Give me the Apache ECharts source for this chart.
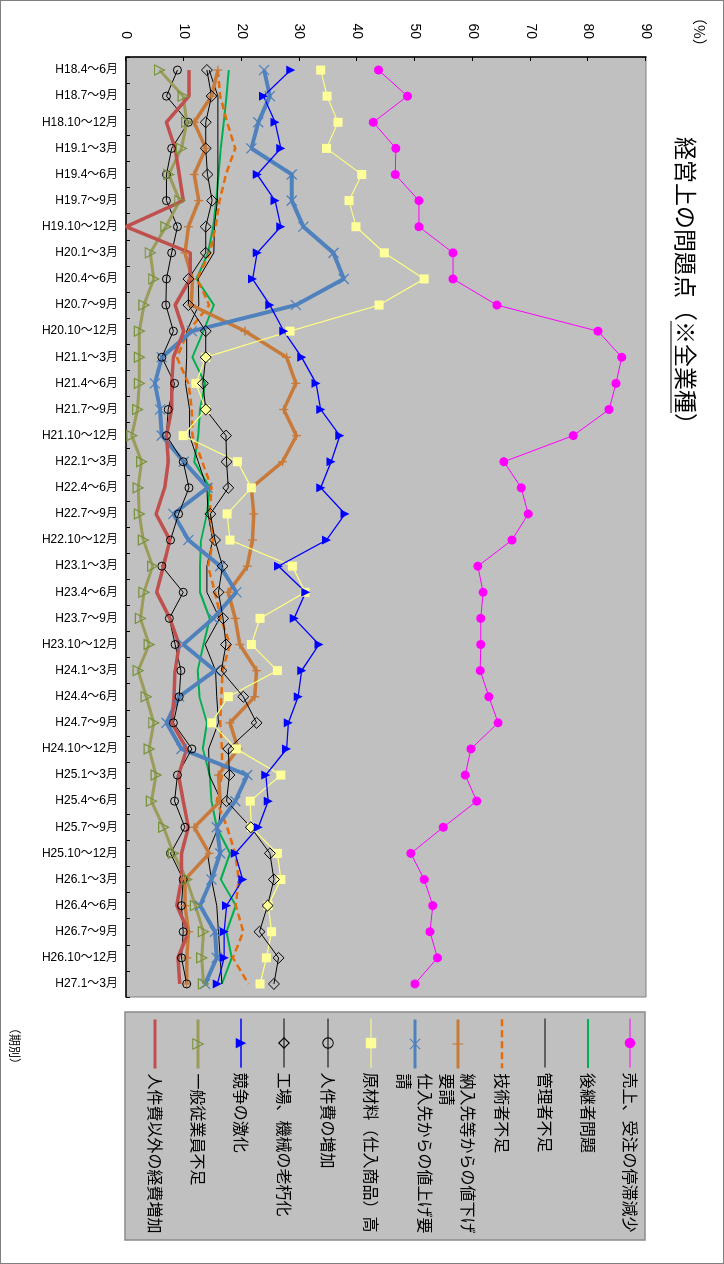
<!DOCTYPE html>
<html><head><meta charset="utf-8">
<script src="https://cdn.jsdelivr.net/npm/echarts@6/dist/echarts.min.js"></script>
<style>
html,body{margin:0;padding:0;background:#fff;overflow:hidden;width:724px;height:1264px;}
#wrap{position:absolute;left:0;top:0;width:1264px;height:724px;transform-origin:0 0;transform:translate(724px,0) rotate(90deg);}
#chart{width:1264px;height:724px;}
#frame{position:absolute;left:0;top:0;width:724px;height:1264px;box-sizing:border-box;border:1px solid #7f7f7f;pointer-events:none;}
</style></head><body>
<div id="wrap"><div id="chart"></div></div>
<div id="frame"></div>
<script>
const categories = ['H18.4～6月','H18.7～9月','H18.10～12月','H19.1～3月','H19.4～6月','H19.7～9月','H19.10～12月',
  'H20.1～3月','H20.4～6月','H20.7～9月','H20.10～12月','H21.1～3月','H21.4～6月','H21.7～9月','H21.10～12月',
  'H22.1～3月','H22.4～6月','H22.7～9月','H22.10～12月','H23.1～3月','H23.4～6月','H23.7～9月','H23.10～12月',
  'H24.1～3月','H24.4～6月','H24.7～9月','H24.10～12月','H25.1～3月','H25.4～6月','H25.7～9月','H25.10～12月',
  'H26.1～3月','H26.4～6月','H26.7～9月','H26.10～12月','H27.1～3月'];

const salesDecline      = [43.7,48.7,42.8,46.7,46.6,50.7,50.7,56.6,56.6,64.2,81.7,85.8,84.8,83.6,77.4,65.4,68.4,69.6,66.8,60.9,61.8,61.4,61.4,61.3,62.8,64.4,59.7,58.7,60.7,54.9,49.3,51.6,53.1,52.6,53.9,50.0];
const successor         = [17.8,17.4,16.9,16.4,16.0,15.6,15.1,14.2,12.2,15.2,13.4,11.5,13.7,12.8,12.5,11.8,14.5,14.0,13.0,12.8,12.8,14.5,13.4,12.4,12.7,14.0,13.3,14.5,14.8,15.7,18.0,16.4,19.0,17.4,18.3,16.6];
const managerShortage   = [14.4,15.9,15.9,15.9,15.9,15.8,15.3,15.2,12.5,12.6,10.5,10.5,10.3,11.0,11.0,12.5,14.0,14.2,15.0,14.0,14.0,16.2,13.7,15.5,15.7,16.0,14.3,14.4,16.5,16.0,14.1,14.8,15.7,16.0,16.3,16.6];
const engineerShortage  = [15.9,16.3,17.5,18.9,17.3,16.2,15.5,14.5,12.3,14.4,10.8,8.8,10.8,11.4,11.5,13.2,14.8,14.5,15.1,14.2,15.4,16.4,18.0,16.7,16.5,16.3,16.6,16.6,15.7,17.5,18.9,19.5,19.0,20.3,18.5,21.2];
const priceCutRequest   = [15.9,14.8,11.8,13.8,11.8,12.6,10.8,10.2,11.5,11.3,20.6,27.8,29.4,27.3,29.5,27.1,21.7,22.1,21.9,21.0,17.7,18.9,19.7,22.6,22.3,18.0,19.4,16.0,16.3,11.8,14.4,10.2,10.2,10.8,10.5,10.5];
const supplierPriceUp   = [23.9,24.9,22.9,21.7,28.7,28.7,30.7,35.9,37.7,29.4,11.4,6.2,5.0,5.9,6.2,10.0,14.1,8.2,10.8,16.3,19.1,15.1,9.9,15.4,9.2,7.0,9.6,21.0,18.9,15.7,16.3,14.8,12.8,15.4,15.7,13.7];
const materialCost      = [33.7,34.8,36.7,34.7,40.8,38.6,39.8,44.7,51.6,43.8,28.4,13.8,12.1,13.8,9.9,19.3,21.7,17.5,18.0,28.8,31.0,23.2,21.7,26.2,17.7,14.8,19.1,26.8,21.5,21.7,26.2,26.8,24.6,25.2,24.3,23.2];
const laborCostUp       = [8.9,7.0,10.8,7.9,7.0,7.0,8.9,7.9,7.0,6.9,8.2,6.2,8.4,7.3,7.0,9.9,10.9,9.1,7.7,6.2,9.9,7.5,8.5,9.5,9.2,8.2,11.4,8.9,8.4,10.2,7.7,9.9,9.6,9.9,9.6,10.5];
const facilityAging     = [14.0,14.8,13.8,13.8,14.1,14.9,13.8,13.8,10.8,10.8,13.8,13.8,13.3,13.8,17.3,17.4,17.7,14.6,15.4,16.7,16.0,16.8,17.3,16.5,20.3,22.6,17.7,17.9,17.4,21.6,24.9,25.6,24.5,23.1,26.4,25.6];
const competition       = [28.5,23.8,25.8,26.8,22.7,25.8,26.8,22.7,21.9,24.9,27.3,30.4,32.9,33.7,37.0,35.5,33.7,37.9,34.7,26.4,31.1,29.1,33.4,30.4,29.8,28.1,27.8,24.2,24.6,22.9,18.9,20.2,17.4,17.0,17.0,15.8];
const staffShortage     = [5.8,9.9,10.5,9.6,7.4,9.3,6.9,4.2,4.8,3.1,2.3,2.3,2.3,2.0,1.0,2.7,2.1,2.3,3.0,4.6,3.1,2.5,4.0,2.1,3.5,4.8,4.0,5.2,4.4,6.5,8.2,10.5,12.0,13.4,13.1,13.4];
const otherExpenses     = [10.9,10.9,7.0,8.5,9.2,9.9,0.0,11.1,11.1,8.5,10.0,8.2,7.9,7.9,7.0,7.3,6.7,5.2,7.6,6.5,5.3,7.6,9.2,8.5,8.3,7.9,10.5,9.1,9.9,10.8,9.6,9.6,8.8,10.8,9.0,9.3];

const seriesNames = ['売上、受注の停滞減少','後継者問題','管理者不足','技術者不足','納入先等からの値下げ要請','仕入先からの値上げ要請',
  '原材料（仕入商品）高','人件費の増加','工場、機械の老朽化','競争の激化','一般従業員不足','人件費以外の経費増加'];
const legendText = {'納入先等からの値下げ要請':'納入先等からの値下げ\n要請','仕入先からの値上げ要請':'仕入先からの値上げ要\n請'};

const CJK = "'Noto Sans CJK JP', sans-serif";
const LATIN = "'Liberation Sans', 'Noto Sans CJK JP', sans-serif";
const X_PATH = 'path://M0 0L10 10M10 0L0 10';
const PLUS_PATH = 'path://M5 0L5 10M0 5L10 5';
const CLEAR = 'rgba(0,0,0,0)';

function mk(name, data, color, width, opts) {
  opts = opts || {};
  const base = {
    name: name, type: 'line', data: data,
    symbol: 'circle', symbolSize: 1, showAllSymbol: true, animation: false,
    lineStyle: {color: color, width: width, type: opts.dash || 'solid'},
    itemStyle: {color: CLEAR, borderColor: CLEAR, borderWidth: 0},
    emphasis: {disabled: true}
  };
  return Object.assign(base, opts.extra || {});
}

const series = [
  mk(seriesNames[0], salesDecline, '#FF00FF', 1, {extra: {symbol: 'circle', symbolSize: 9, itemStyle: {color: '#FF00FF'}}}),
  mk(seriesNames[1], successor, '#00B050', 2),
  mk(seriesNames[2], managerShortage, '#000000', 1),
  mk(seriesNames[3], engineerShortage, '#E46C0A', 2.5, {dash: [7, 4]}),
  mk(seriesNames[4], priceCutRequest, '#C77A3A', 3.5, {extra: {symbol: PLUS_PATH, symbolSize: 9, itemStyle: {color: CLEAR, borderColor: '#C77A3A', borderWidth: 1.3}}}),
  mk(seriesNames[5], supplierPriceUp, '#4F81BD', 4, {extra: {symbol: X_PATH, symbolSize: 10, itemStyle: {color: CLEAR, borderColor: '#4F81BD', borderWidth: 1.3}}}),
  mk(seriesNames[6], materialCost, '#FFFF80', 1.2, {extra: {symbol: 'rect', symbolSize: 9, itemStyle: {color: '#FFFF99'}}}),
  mk(seriesNames[7], laborCostUp, '#000000', 1, {extra: {symbol: 'circle', symbolSize: 8, itemStyle: {color: CLEAR, borderColor: '#000', borderWidth: 1}}}),
  mk(seriesNames[8], facilityAging, '#000000', 1, {extra: {symbol: 'diamond', symbolSize: 11, itemStyle: {color: CLEAR, borderColor: '#000', borderWidth: 1}}}),
  mk(seriesNames[9], competition, '#0000FF', 1.3, {extra: {symbol: 'triangle', symbolSize: 9, itemStyle: {color: '#0000FF'}}}),
  mk(seriesNames[10], staffShortage, '#9B9B5A', 3, {extra: {symbol: 'triangle', symbolSize: 10, itemStyle: {color: CLEAR, borderColor: '#77933C', borderWidth: 1.2}}}),
  mk(seriesNames[11], otherExpenses, '#C0504D', 3.5)
];
const hasMarker = [true,false,false,false,true,true,true,true,true,true,true,false];

const legendY = [94,136,179,222,266,309,353,396,440,483,526,569];
const LH = 21;
const legends = seriesNames.map(function (n, i) {
  const wrapped = !!legendText[n];
  return {
    data: [n], orient: 'vertical', left: 1018,
    top: wrapped ? legendY[i] - 1.5 * LH : legendY[i] - LH / 2,
    itemWidth: 49, itemHeight: 13, itemGap: 0, padding: 0, selectedMode: false,
    itemStyle: {borderWidth: hasMarker[i] ? 1.1 : 0},
    lineStyle: {width: Math.min(series[i].lineStyle.width, 3)},
    formatter: function (name) { return legendText[name] || name; },
    textStyle: {fontSize: 16, lineHeight: LH, fontFamily: CJK, color: '#000', padding: wrapped ? [LH, 0, 0, 0] : 0}
  };
});

const TITLE_FS = 23, TITLE_X = 137;
const chart = echarts.init(document.getElementById('chart'), null, {renderer: 'canvas'});
chart.setOption({
  animation: false,
  backgroundColor: '#fff',
  title: {text: '経営上の問題点（※全業種）', left: TITLE_X, top: 27, padding: 0,
    textStyle: {fontSize: TITLE_FS, fontWeight: 'normal', fontFamily: CJK, color: '#000'}},
  legend: legends,
  grid: {left: 57, top: 78, width: 940, height: 520, show: true, backgroundColor: '#C0C0C0', borderColor: '#808080', borderWidth: 1},
  xAxis: {
    type: 'category', data: categories, boundaryGap: true,
    axisLine: {lineStyle: {color: '#000', width: 1.5}},
    axisTick: {show: true, inside: true, length: 4, lineStyle: {color: '#000'}},
    axisLabel: {rotate: 90, interval: 0, fontSize: 12, margin: 8, color: '#000', fontFamily: LATIN},
    splitLine: {show: false}
  },
  yAxis: {
    type: 'value', min: 0, max: 90, interval: 10,
    axisLine: {show: true, lineStyle: {color: '#000', width: 1.5}},
    axisTick: {show: true, inside: true, length: 4, lineStyle: {color: '#000'}},
    axisLabel: {fontSize: 14, margin: 18, color: '#000', fontFamily: LATIN},
    splitLine: {show: false}
  },
  graphic: [
    {type: 'rect', z: -1, shape: {x: 1012, y: 79, width: 228, height: 520}, style: {fill: '#C0C0C0', stroke: '#8a8a8a', lineWidth: 1.5}},
    {type: 'line', shape: {x1: TITLE_X + 8 * TITLE_FS, y1: 53, x2: TITLE_X + 12 * TITLE_FS, y2: 53}, style: {stroke: '#000', lineWidth: 1.2}},
    {type: 'text', x: 1022, y: 709, style: {text: '（期別）', fontSize: 12, fontFamily: CJK, fill: '#000', verticalAlign: 'middle'}},
    {type: 'text', x: 10, y: 24, style: {text: '（%）', fontSize: 15, fontFamily: CJK, fill: '#000', verticalAlign: 'middle'}}
  ],
  series: series
});
</script></body></html>
